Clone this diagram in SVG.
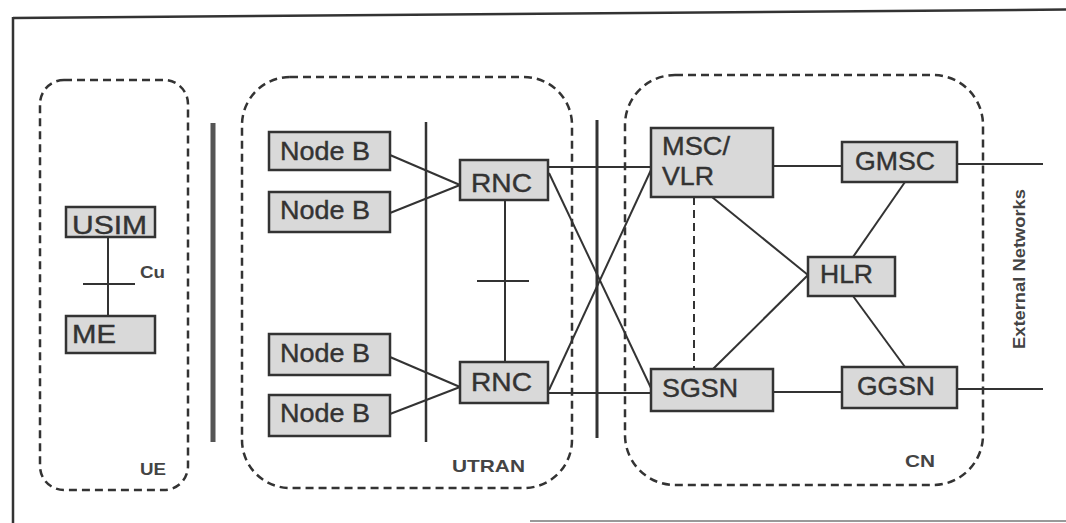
<svg xmlns="http://www.w3.org/2000/svg" width="1066" height="523" viewBox="0 0 1066 523">
<style>
.node rect{fill:#d9d9d9;stroke:#333;stroke-width:2.5}
.node text{font-family:"Liberation Sans",Arial,sans-serif;font-size:25px;fill:#333;stroke:#333;stroke-width:0.4}
.grp{fill:none;stroke:#333;stroke-width:2.5;stroke-dasharray:8 5}
.lbl{font-family:"Liberation Sans",Arial,sans-serif;font-weight:bold;font-size:17px;fill:#444}
.ln{stroke:#333;stroke-width:2;fill:none}
</style>
<rect width="1066" height="523" fill="#fff"/>
<!-- frame -->
<g id="frame" stroke="#333" stroke-width="2.5" fill="none">
<line x1="13" y1="18" x2="1066" y2="9.5"/>
<line x1="13" y1="17" x2="13" y2="523"/>
<line x1="530" y1="521" x2="1066" y2="521" stroke="#999" stroke-width="2"/>
</g>
<!-- domain groups -->
<g id="UE">
<rect class="grp" x="40" y="80" width="148" height="410" rx="24"/>
<text class="lbl" x="140" y="475" textLength="26" lengthAdjust="spacingAndGlyphs">UE</text>
</g>
<g id="UTRAN">
<rect class="grp" x="242" y="77" width="330" height="411" rx="48"/>
<text class="lbl" x="452" y="472" textLength="73" lengthAdjust="spacingAndGlyphs">UTRAN</text>
</g>
<g id="CN">
<rect class="grp" x="625" y="75" width="358" height="410" rx="50"/>
<text class="lbl" x="905" y="467" textLength="30" lengthAdjust="spacingAndGlyphs">CN</text>
</g>
<text id="external" class="lbl" font-size="18" transform="translate(1025,269) rotate(-90)" text-anchor="middle" textLength="160" lengthAdjust="spacingAndGlyphs">External Networks</text>
<!-- interface bars -->
<g id="interfaces">
<line x1="213" y1="123" x2="213" y2="442" stroke="#555" stroke-width="5"/>
<line x1="426" y1="122" x2="426" y2="442" stroke="#333" stroke-width="2.5"/>
<line x1="597" y1="120" x2="597" y2="438" stroke="#333" stroke-width="3"/>
</g>
<!-- connectors -->
<g id="connectors" class="ln">
<line x1="108" y1="237" x2="108" y2="317"/>
<line x1="83" y1="284" x2="135" y2="284"/>
<line x1="390" y1="155" x2="460" y2="185"/>
<line x1="390" y1="213" x2="460" y2="185"/>
<line x1="390" y1="357" x2="460" y2="387"/>
<line x1="390" y1="414" x2="460" y2="387"/>
<line x1="505" y1="200" x2="505" y2="362"/>
<line x1="477" y1="281" x2="529" y2="281"/>
<line x1="548" y1="167" x2="651" y2="167"/>
<line x1="548" y1="393" x2="651" y2="393"/>
<line x1="549" y1="173" x2="651" y2="388"/>
<line x1="549" y1="390" x2="651" y2="170"/>
<line x1="773" y1="166" x2="842" y2="166"/>
<line x1="957" y1="164" x2="1043" y2="164"/>
<line x1="773" y1="392" x2="842" y2="392"/>
<line x1="957" y1="389" x2="1043" y2="389"/>
<line x1="694" y1="197" x2="694" y2="369" stroke-dasharray="8 5"/>
<line x1="712" y1="197" x2="808" y2="275"/>
<line x1="713" y1="369" x2="808" y2="275"/>
<line x1="905" y1="182" x2="853" y2="257"/>
<line x1="853" y1="296" x2="905" y2="367"/>
</g>
<!-- nodes -->
<g id="USIM" class="node"><rect x="66" y="207" width="89" height="30"/><text x="72" y="234" textLength="75" lengthAdjust="spacingAndGlyphs">USIM</text></g>
<g id="ME" class="node"><rect x="66" y="316" width="89" height="37"/><text x="72" y="343" textLength="44" lengthAdjust="spacingAndGlyphs">ME</text></g>
<g id="NodeB1" class="node"><rect x="269" y="132" width="121" height="38"/><text x="280" y="160" textLength="90" lengthAdjust="spacingAndGlyphs">Node B</text></g>
<g id="NodeB2" class="node"><rect x="269" y="192" width="121" height="40"/><text x="280" y="219" textLength="90" lengthAdjust="spacingAndGlyphs">Node B</text></g>
<g id="NodeB3" class="node"><rect x="269" y="334" width="121" height="41"/><text x="280" y="362" textLength="90" lengthAdjust="spacingAndGlyphs">Node B</text></g>
<g id="NodeB4" class="node"><rect x="269" y="395" width="121" height="41"/><text x="280" y="422" textLength="90" lengthAdjust="spacingAndGlyphs">Node B</text></g>
<g id="RNC1" class="node"><rect x="460" y="160" width="88" height="40"/><text x="471" y="192" textLength="61" lengthAdjust="spacingAndGlyphs">RNC</text></g>
<g id="RNC2" class="node"><rect x="460" y="362" width="88" height="41"/><text x="471" y="391" textLength="61" lengthAdjust="spacingAndGlyphs">RNC</text></g>
<g id="MSCVLR" class="node"><rect x="651" y="128" width="122" height="69"/><text x="662" y="155" textLength="68" lengthAdjust="spacingAndGlyphs">MSC/</text><text x="662" y="185" textLength="52" lengthAdjust="spacingAndGlyphs">VLR</text></g>
<g id="GMSC" class="node"><rect x="842" y="142" width="115" height="40"/><text x="855" y="170" textLength="80" lengthAdjust="spacingAndGlyphs">GMSC</text></g>
<g id="HLR" class="node"><rect x="808" y="257" width="87" height="39"/><text x="820" y="283" textLength="53" lengthAdjust="spacingAndGlyphs">HLR</text></g>
<g id="SGSN" class="node"><rect x="651" y="369" width="122" height="42"/><text x="662" y="397" textLength="76" lengthAdjust="spacingAndGlyphs">SGSN</text></g>
<g id="GGSN" class="node"><rect x="842" y="367" width="115" height="41"/><text x="857" y="395" textLength="78" lengthAdjust="spacingAndGlyphs">GGSN</text></g>
<text class="lbl" x="140" y="278" font-size="16" textLength="25" lengthAdjust="spacingAndGlyphs">Cu</text>
</svg>
